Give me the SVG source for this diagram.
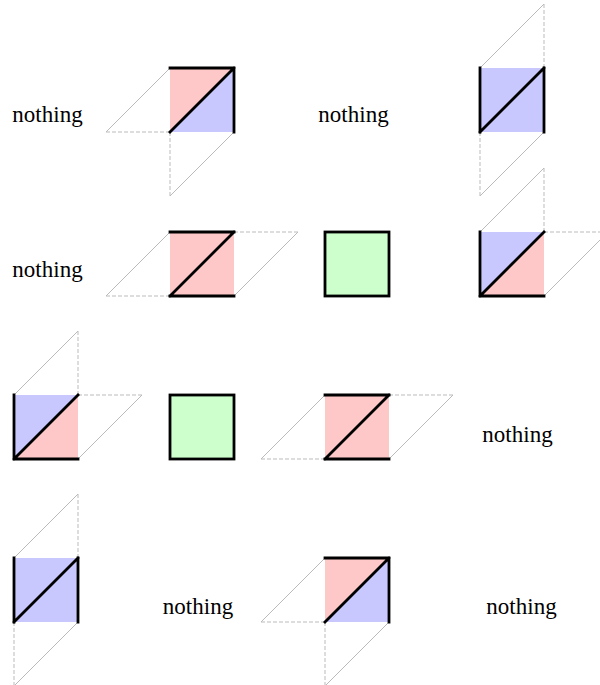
<svg xmlns="http://www.w3.org/2000/svg" width="600" height="685" viewBox="0 0 600 685">
<style>
.pk{fill:#ffc8c8}
.bl{fill:#c8c8ff}
.gr{fill:#ccffcc;stroke:#000;stroke-width:2.8}
.th{stroke:#000;stroke-width:2.8;fill:none;stroke-linecap:square}
.gl{stroke:#bbb;stroke-width:1;fill:none}
.dl{stroke:#bbb;stroke-width:1;fill:none;stroke-dasharray:4,2}
.t{font-family:'Liberation Serif','DejaVu Serif',serif;font-size:23px;fill:#000;text-anchor:middle}
</style>
<rect width="600" height="685" fill="#fff"/>
<g id="r1c1"><text class="t" font-family="Liberation Serif, serif" x="47.5" y="122">nothing</text></g>
<g id="r1c2">
<polygon class="pk" points="170,68 234,68 170,132"/>
<polygon class="bl" points="234,68 234,132 170,132"/>
<line class="gl" x1="106" y1="132" x2="170" y2="68"/>
<line class="dl" x1="106" y1="132" x2="170" y2="132"/>
<line class="dl" x1="170" y1="132" x2="170" y2="196"/>
<line class="gl" x1="170" y1="196" x2="234" y2="132"/>
<path class="th" d="M170,68H234V132M170,132L234,68"/>
</g>
<g id="r1c3"><text class="t" font-family="Liberation Serif, serif" x="353.5" y="122">nothing</text></g>
<g id="r1c4">
<rect class="bl" x="480" y="68" width="64" height="64"/>
<line class="gl" x1="480" y1="68" x2="544" y2="4"/>
<line class="dl" x1="544" y1="4" x2="544" y2="68"/>
<line class="dl" x1="480" y1="132" x2="480" y2="196"/>
<line class="gl" x1="480" y1="196" x2="544" y2="132"/>
<path class="th" d="M480,68V132M544,68V132M480,132L544,68"/>
</g>
<g id="r2c1"><text class="t" font-family="Liberation Serif, serif" x="47.5" y="277">nothing</text></g>
<g id="r2c2">
<rect class="pk" x="170" y="232" width="64" height="64"/>
<line class="gl" x1="106" y1="296" x2="170" y2="232"/>
<line class="dl" x1="106" y1="296" x2="170" y2="296"/>
<line class="dl" x1="234" y1="232" x2="298" y2="232"/>
<line class="gl" x1="298" y1="232" x2="234" y2="296"/>
<path class="th" d="M170,232H234M170,296H234M170,296L234,232"/>
</g>
<g id="r2c3"><rect class="gr" x="325" y="232" width="64" height="64"/></g>
<g id="r2c4">
<polygon class="bl" points="480,232 544,232 480,296"/>
<polygon class="pk" points="544,232 544,296 480,296"/>
<line class="gl" x1="480" y1="232" x2="544" y2="168"/>
<line class="dl" x1="544" y1="168" x2="544" y2="232"/>
<line class="dl" x1="544" y1="232" x2="608" y2="232"/>
<line class="gl" x1="608" y1="232" x2="544" y2="296"/>
<path class="th" d="M480,232V296H544M480,296L544,232"/>
</g>
<g id="r3c1">
<polygon class="bl" points="14,395 78,395 14,459"/>
<polygon class="pk" points="78,395 78,459 14,459"/>
<line class="gl" x1="14" y1="395" x2="78" y2="331"/>
<line class="dl" x1="78" y1="331" x2="78" y2="395"/>
<line class="dl" x1="78" y1="395" x2="142" y2="395"/>
<line class="gl" x1="142" y1="395" x2="78" y2="459"/>
<path class="th" d="M14,395V459H78M14,459L78,395"/>
</g>
<g id="r3c2"><rect class="gr" x="170" y="395" width="64" height="64"/></g>
<g id="r3c3">
<rect class="pk" x="325" y="395" width="64" height="64"/>
<line class="gl" x1="261" y1="459" x2="325" y2="395"/>
<line class="dl" x1="261" y1="459" x2="325" y2="459"/>
<line class="dl" x1="389" y1="395" x2="453" y2="395"/>
<line class="gl" x1="453" y1="395" x2="389" y2="459"/>
<path class="th" d="M325,395H389M325,459H389M325,459L389,395"/>
</g>
<g id="r3c4"><text class="t" font-family="Liberation Serif, serif" x="517.5" y="441.5">nothing</text></g>
<g id="r4c1">
<rect class="bl" x="14" y="558" width="64" height="64"/>
<line class="gl" x1="14" y1="558" x2="78" y2="494"/>
<line class="dl" x1="78" y1="494" x2="78" y2="558"/>
<line class="dl" x1="14" y1="622" x2="14" y2="686"/>
<line class="gl" x1="14" y1="686" x2="78" y2="622"/>
<path class="th" d="M14,558V622M78,558V622M14,622L78,558"/>
</g>
<g id="r4c2"><text class="t" font-family="Liberation Serif, serif" x="198" y="613.5">nothing</text></g>
<g id="r4c3">
<polygon class="pk" points="325,558 389,558 325,622"/>
<polygon class="bl" points="389,558 389,622 325,622"/>
<line class="gl" x1="261" y1="622" x2="325" y2="558"/>
<line class="dl" x1="261" y1="622" x2="325" y2="622"/>
<line class="dl" x1="325" y1="622" x2="325" y2="686"/>
<line class="gl" x1="325" y1="686" x2="389" y2="622"/>
<path class="th" d="M325,558H389V622M325,622L389,558"/>
</g>
<g id="r4c4"><text class="t" font-family="Liberation Serif, serif" x="521.5" y="613.5">nothing</text></g>
<g id="connectors"></g>
</svg>
